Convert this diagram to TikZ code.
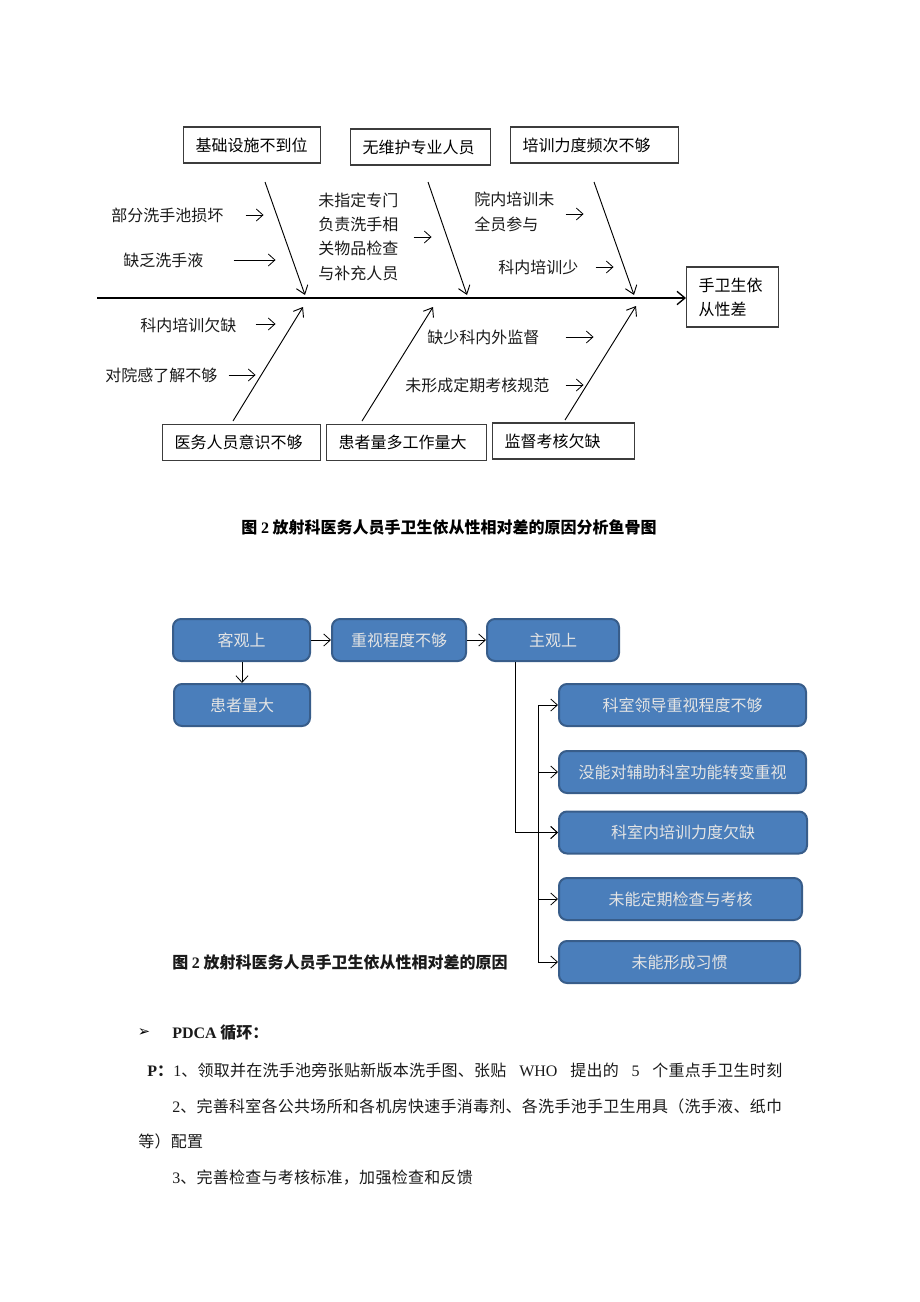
\documentclass[tikz,border=0pt]{standalone}
\usepackage{fontspec}
\setmainfont{Noto Sans CJK SC}
\newfontfamily\bodyfont[LetterSpace=1.7]{Noto Sans CJK SC}
\newfontfamily\tnr{Liberation Serif}
\newfontfamily\symfont{DejaVu Sans}
\usetikzlibrary{arrows.meta,calc,positioning}
\definecolor{boxfill}{HTML}{4A7EBB}
\definecolor{boxedge}{HTML}{385D8A}
\definecolor{boxtext}{HTML}{E4E4E4}
\definecolor{ink}{HTML}{1A1A1A}

\begin{document}
\begin{tikzpicture}[x=0.75pt, y=-0.75pt,
  fb/.style={draw=ink!85, line width=0.9pt, anchor=west, inner xsep=9pt, inner ysep=0pt, minimum height=27pt, align=left, text width=#1, font=\fontsize{12pt}{18pt}\selectfont},
  cause/.style={anchor=west, inner sep=0pt, align=left, text=ink, font=\fontsize{12pt}{18.2pt}\selectfont},
  tip/.style={-{Straight Barb[length=5pt,width=9pt]}, line width=0.6pt},
  bone/.style={-{Straight Barb[length=6pt,width=9pt]}, line width=0.7pt},
  flowbox/.style={draw=boxedge, fill=boxfill, line width=1.5pt, rounded corners=6pt, minimum height=31.5pt, minimum width=#1, text=boxtext, font=\fontsize{12pt}{14pt}\selectfont},
  flow/.style={-{Straight Barb[length=5pt,width=9pt]}, line width=0.6pt},
  txt/.style={anchor=west, inner sep=0pt, text=ink, font=\bodyfont\fontsize{12pt}{14pt}\selectfont},
]
\useasboundingbox (0,0) rectangle (920,1302);

\node[fb=84.75pt] (infra) at (183,145) {基础设施不到位};
\node[fb=87pt] (staff) at (350,147) {无维护专业人员};
\node[fb=108pt] (train) at (510,145) {培训力度频次不够};
\node[fb=100.5pt] (aware) at (162,442.5) {医务人员意识不够};
\node[fb=102pt] (load) at (326,442.5) {患者量多工作量大};
\node[fb=88.5pt] (audit) at (492,441) {监督考核欠缺};
\node[draw=ink!85, line width=0.9pt, anchor=west, inner xsep=9pt, text width=51pt, minimum height=45pt, align=left, font=\fontsize{12pt}{18pt}\selectfont] (effect) at (686,297) {手卫生依\\从性差};

\coordinate (tail) at (97,298);
\draw[-{Straight Barb[length=6pt,width=10pt]}, line width=1pt] (tail) -- (tail -| effect.west);

\coordinate (t1a) at (265,182); \coordinate (t1b) at (305,295);
\coordinate (t2a) at (428,182); \coordinate (t2b) at (467,295);
\coordinate (t3a) at (594,182); \coordinate (t3b) at (634,295);
\coordinate (b1a) at (233,421); \coordinate (b1b) at (303,307);
\coordinate (b2a) at (362,421); \coordinate (b2b) at (433,307);
\coordinate (b3a) at (565,420); \coordinate (b3b) at (636,306);
\foreach \s in {t1,t2,t3,b1,b2,b3}
  \draw[bone] (\s a) -- (\s b);

\node[cause] (sink) at (111,215) {部分洗手池损坏};
\node[cause] (soap) at (123,260) {缺乏洗手液};
\node[cause] (nobody) at (318,236.5) {未指定专门\\负责洗手相\\关物品检查\\与补充人员};
\node[cause] (hosp) at (474,212) {院内培训未\\全员参与};
\node[cause] (dept) at (498,267) {科内培训少};
\node[cause] (lack) at (140,325) {科内培训欠缺};
\node[cause] (infect) at (105,375) {对院感了解不够};
\node[cause] (superv) at (427,337) {缺少科内外监督};
\node[cause] (norm) at (405,385) {未形成定期考核规范};

\draw[tip] ($(sink.east)+(22,0)$) -- ++(18,0);
\draw[tip] ($(soap.east)+(30,0)$) -- ++(42,0);
\draw[tip] ($(nobody.east)+(15,0.5)$) -- ++(18,0);
\draw[tip] ($(hosp.east)+(11,2)$) -- ++(18,0);
\draw[tip] ($(dept.east)+(17,0)$) -- ++(18,0);
\draw[tip] ($(lack.east)+(19,-1)$) -- ++(20,0);
\draw[tip] ($(infect.east)+(11,0)$) -- ++(27,0);
\draw[tip] ($(superv.east)+(26,0)$) -- ++(28,0);
\draw[tip] ($(norm.east)+(16,0)$) -- ++(18,0);

\node[inner sep=0pt, font=\fontsize{12pt}{14pt}\selectfont\bfseries] (cap1) at (449,527) {图 {\tnr 2} 放射科医务人员手卫生依从性相对差的原因分析鱼骨图};

\node[flowbox=102.75pt] (obj) at (241.5,640) {客观上};
\node[flowbox=100.5pt] (care) at (399,640) {重视程度不够};
\node[flowbox=99pt] (subj) at (553,640) {主观上};
\node[flowbox=102pt] (many) at (242,705) {患者量大};
\node[flowbox=185.25pt, anchor=west] (lead) at (558,705) {科室领导重视程度不够};
\node[flowbox=185.25pt, anchor=west] (shift) at (558,772) {没能对辅助科室功能转变重视};
\node[flowbox=186pt, anchor=west] (intrain) at (558,832.5) {科室内培训力度欠缺};
\node[flowbox=182.25pt, anchor=west] (check) at (558,899) {未能定期检查与考核};
\node[flowbox=180.75pt, anchor=west] (habit) at (558,962) {未能形成习惯};

\draw[flow] (obj) -- (care);
\draw[flow] (care) -- (subj);
\draw[flow] (obj.south -| many.north) -- (many.north);
\draw[flow] ($(subj.south)+(-38,0)$) |- (intrain.west);
\coordinate (branch) at (538,0);
\draw[line width=0.6pt] (lead.west -| branch) -- (habit.west -| branch);
\foreach \k in {lead,shift,intrain,check,habit}
  \draw[flow] (\k.west -| branch) -- (\k.west);

\node[txt, font=\fontsize{12pt}{14pt}\selectfont\bfseries] (cap2) at (172,962) {图 {\tnr 2} 放射科医务人员手卫生依从性相对差的原因};

\node[inner sep=0pt, font=\symfont\fontsize{11pt}{13pt}\selectfont] (bullet) at (144,1033) {➢};
\node[txt, font=\fontsize{12pt}{14pt}\selectfont\bfseries] (pdca) at (172,1033) {{\tnr PDCA} 循环：};
\node[txt] (line1) at (147,1070) {\makebox[476.25pt][s]{\textbf{{\tnr P}：}{\tnr 1}、领取并在洗手池旁张贴新版本洗手图、张贴 {\tnr WHO} 提出的 {\tnr 5} 个重点手卫生时刻}};
\node[txt] (line2) at (172,1106) {{\tnr 2}、完善科室各公共场所和各机房快速手消毒剂、各洗手池手卫生用具（洗手液、纸巾};
\node[txt] (line3) at (138,1141) {等）配置};
\node[txt] (line4) at (172,1178) {{\tnr 3}、完善检查与考核标准，加强检查和反馈};
\end{tikzpicture}
\end{document}
